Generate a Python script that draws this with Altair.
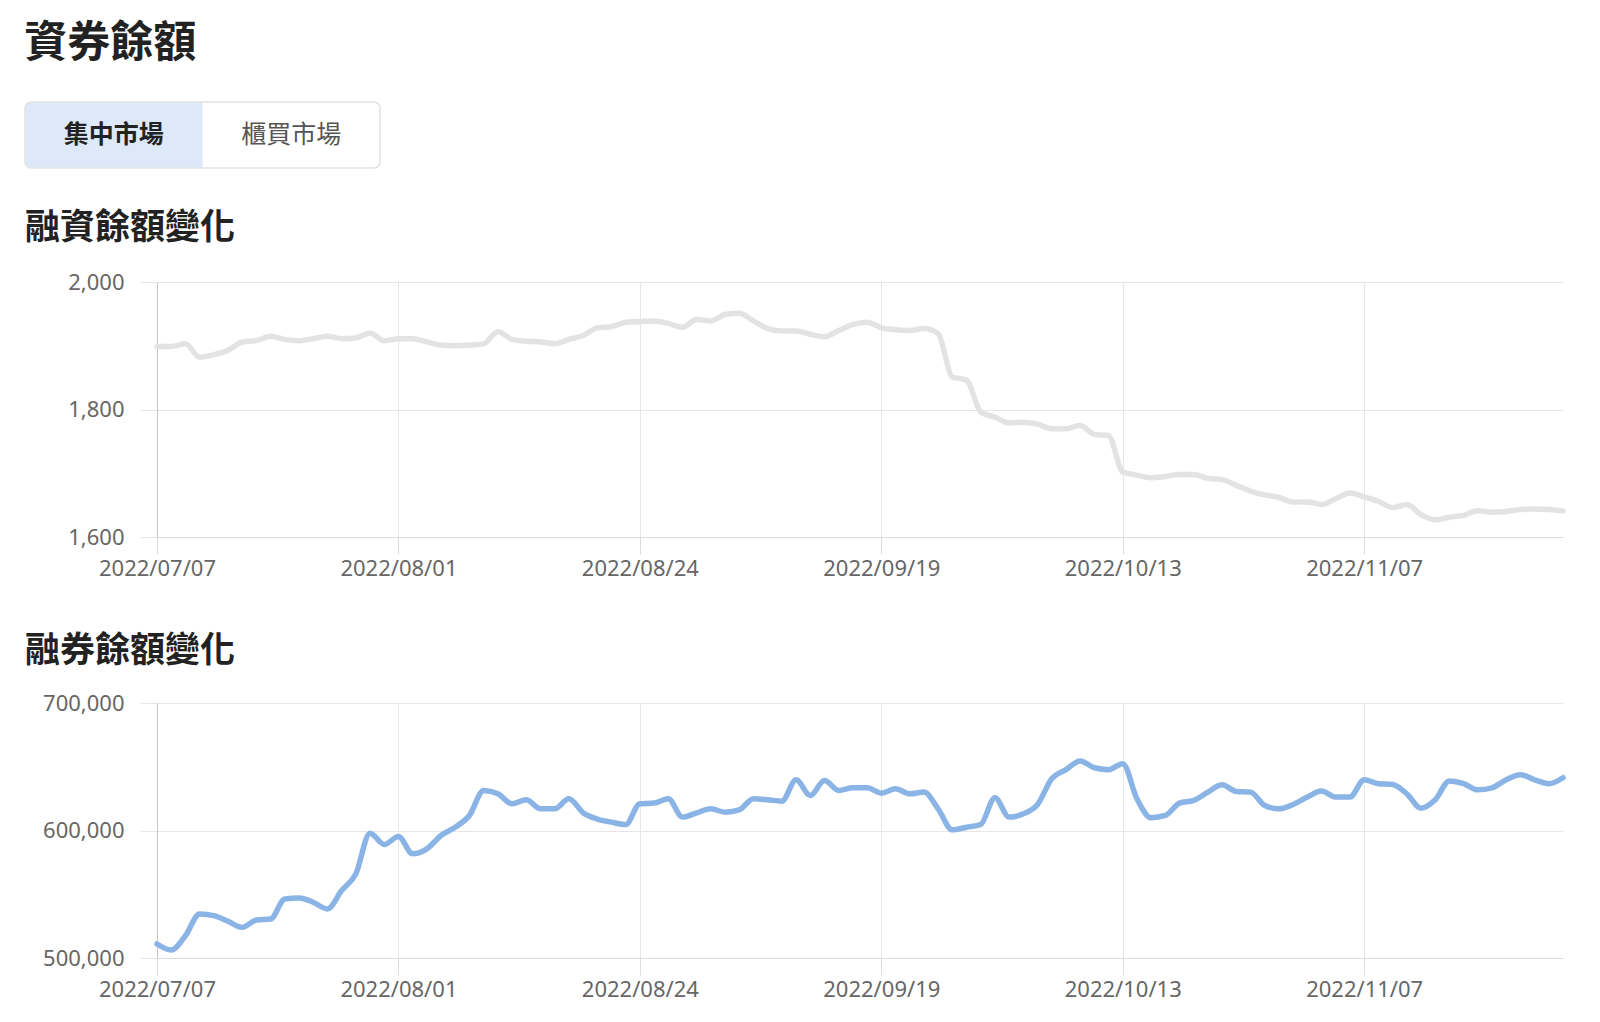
import altair as alt
import pandas as pd

TITLE = "資券餘額"
TABS = ["集中市場", "櫃買市場"]
SELECTED_TAB = "集中市場"
MARGIN_TITLE = "融資餘額變化"
SHORT_TITLE = "融券餘額變化"

HOLIDAYS = ["2022-09-09", "2022-10-10"]
_days = pd.bdate_range("2022-07-07", "2022-11-25")
DATES = [d.strftime("%Y/%m/%d") for d in _days if d.strftime("%Y-%m-%d") not in HOLIDAYS]
TICK_DATES = ["2022/07/07", "2022/08/01", "2022/08/24", "2022/09/19", "2022/10/13", "2022/11/07"]

MARGIN_VALUES = [
    1899, 1899, 1903, 1882, 1886, 1893, 1906, 1908, 1915, 1910,
    1908, 1911, 1915, 1911, 1912, 1920, 1908, 1911, 1911, 1906,
    1901, 1900, 1901, 1903, 1922, 1910, 1907, 1906, 1903, 1910,
    1916, 1928, 1930, 1937, 1938, 1939, 1935, 1929, 1941, 1939,
    1949, 1951, 1939, 1927, 1923, 1923, 1918, 1914, 1924, 1933,
    1937, 1928, 1925, 1924, 1927, 1919, 1851, 1846, 1796, 1788,
    1779, 1780, 1777, 1770, 1770, 1775, 1761, 1759, 1702, 1697,
    1693, 1695, 1698, 1698, 1692, 1690, 1681, 1672, 1666, 1662,
    1655, 1655, 1651, 1660, 1669, 1663, 1656, 1646, 1651, 1635,
    1627, 1631, 1634, 1641, 1639, 1640, 1643, 1644, 1643, 1641,
]
SHORT_VALUES = [
    511000, 506300, 517500, 534600, 533200, 528800, 524100, 529800, 530600, 546300,
    547100, 543700, 538500, 552900, 566000, 597900, 589000, 595300, 581700, 585600,
    596100, 602600, 611800, 631400, 628800, 621000, 624100, 617000, 617000, 624900,
    614000, 609000, 606600, 604700, 621000, 621500, 624900, 610500, 613900, 617000,
    614400, 616200, 624900, 624100, 623000, 639800, 627500, 639300, 631400, 633500,
    633500, 629300, 632700, 628800, 630100, 617000, 600500, 602600, 604700, 625700,
    610500, 613100, 620400, 640600, 647700, 654500, 649200, 647700, 652400, 624900,
    610000, 611800, 621500, 623600, 630100, 635900, 630600, 630100, 619600, 617000,
    620400, 626200, 630900, 626200, 626200, 639800, 636700, 636100, 628800, 617500,
    624100, 638800, 636700, 631900, 633500, 639800, 643700, 639800, 636700, 641400,
]
MARGIN_TICKS = [1600, 1800, 2000]
SHORT_TICKS = [500000, 600000, 700000]

CJK = "Noto Sans CJK TC"
LABEL_FONT = "Noto Sans"
GRID = "#e6e6e6"
AXIS_W = 132          # width kept for the y axis, left of each plot
TABS_W = 355          # width of the tab strip


def x_axis():
    return alt.Axis(values=TICK_DATES, labelAngle=0, title=None, grid=True, gridColor=GRID,
                    tickColor="#dcdcdc", tickSize=17, labelPadding=4, labelFont=LABEL_FONT,
                    labelFontSize=22, labelColor="#666666", domain=True, domainColor="#dcdcdc",
                    labelOverlap=False, minExtent=55, maxExtent=55)


def y_axis(vals):
    return alt.Axis(values=vals, format=",d", title=None, grid=True, gridColor=GRID,
                    tickColor=GRID, tickSize=17, labelPadding=16, labelFont=LABEL_FONT,
                    labelFontSize=22, labelColor="#666666", domain=True, domainColor="#c4c4c4",
                    minExtent=AXIS_W, maxExtent=AXIS_W)


def line_chart(values, ticks, title, color, offset):
    df = pd.DataFrame({"date": DATES, "value": values})
    return alt.Chart(df, title=alt.TitleParams(title, anchor="start", font=CJK, fontSize=35,
                                               fontWeight="bold", color="#222222", offset=offset)).mark_line(
        interpolate="monotone", color=color, strokeWidth=5.5, strokeCap="round"
    ).encode(
        x=alt.X("date:O", scale=alt.Scale(type="point", padding=0), axis=x_axis()),
        y=alt.Y("value:Q", scale=alt.Scale(domain=[ticks[0], ticks[-1]], nice=False, zero=False),
                axis=y_axis(ticks)),
    ).properties(width=1406, height=255)


# tab strip: tabs laid out side by side on a linear scale (slot i spans i..i+1),
# whose range starts where the y-axis area of the charts begins
tabs_df = pd.DataFrame({"tab": TABS, "selected": [t == SELECTED_TAB for t in TABS]})
tab_scale = alt.Scale(domain=[0, len(TABS)], range=[-AXIS_W, TABS_W - AXIS_W])
tab_base = alt.Chart(tabs_df).transform_window(
    rn="row_number()"
).transform_calculate(
    start="datum.rn - 1", end="datum.rn", mid="datum.rn - 0.5"
)
tab_bg = tab_base.transform_filter("datum.selected").mark_rect(
    color="#dde9f9", cornerRadiusTopLeft=6, cornerRadiusBottomLeft=6
).encode(x=alt.X("start:Q", scale=tab_scale, axis=None), x2="end:Q")
tab_border = tab_base.mark_rect(
    fill="transparent", stroke="#e2e2e2", strokeWidth=1.5, cornerRadius=6
).encode(x=alt.X("min(start):Q", scale=tab_scale, axis=None), x2="max(end):Q")
tab_sel = tab_base.transform_filter("datum.selected").mark_text(
    font=CJK, fontSize=25, fontWeight="bold", color="#222222", baseline="middle"
).encode(x=alt.X("mid:Q", scale=tab_scale, axis=None), text="tab:N")
tab_other = tab_base.transform_filter("!datum.selected").mark_text(
    font=CJK, fontSize=25, fontWeight="normal", color="#555555", baseline="middle"
).encode(x=alt.X("mid:Q", scale=tab_scale, axis=None), text="tab:N")
tabs = alt.layer(tab_bg, tab_border, tab_sel, tab_other).properties(width=TABS_W, height=66)

c1 = line_chart(MARGIN_VALUES, MARGIN_TICKS, MARGIN_TITLE, "#e3e3e3", 25)
c2 = line_chart(SHORT_VALUES, SHORT_TICKS, SHORT_TITLE, "#8ab4e6", 23)

chart = alt.concat(
    tabs, c1, c2, columns=1, spacing=42,
    title=alt.TitleParams(TITLE, anchor="start", font=CJK, fontSize=43, fontWeight="bold",
                          color="#222222", offset=35),
).properties(
    padding={"left": 16, "top": 15, "right": 10, "bottom": 5}
).configure_view(strokeWidth=0)

chart.save("out.html", embed_options={"renderer": "svg", "actions": False})
